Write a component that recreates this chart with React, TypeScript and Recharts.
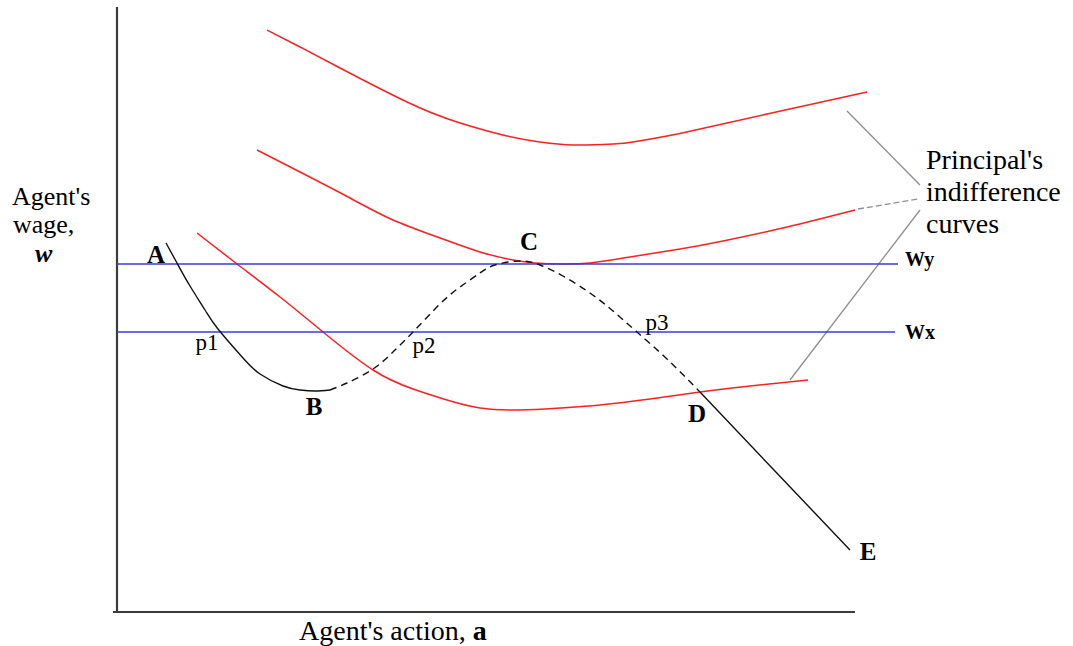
import React from 'react';
import { LineChart, Line, XAxis, YAxis, ReferenceLine, ReferenceDot, Label } from 'recharts';

// The figure has no printed scale, so the units are arbitrary:
// action goes 0..956 from left to right, wage goes 0..612 from bottom to top.

// principal's indifference curves (red)
const highCurveAction = [150, 183, 223, 290, 340, 390, 423, 456, 496, 516, 550, 583, 650, 750];
const highCurveWage = [582, 565, 544, 510, 490, 476, 470, 467, 468, 470, 476, 483, 498, 520];

const midCurveAction = [140, 183, 233, 276, 323, 363, 396, 418, 443, 473, 513, 563, 606, 670, 738];
const midCurveWage = [462, 440, 414, 392, 374, 360, 352, 349, 348, 349, 355, 363, 371, 385, 402];

const lowCurveAction = [80, 120, 163, 206, 256, 296, 330, 363, 403, 443, 483, 533, 583, 633, 691];
const lowCurveWage = [379, 348, 315, 280, 242, 223, 212, 204, 202, 204, 207, 213, 220, 226, 232];

// agent's wage schedule A-B-C-D-E (black): solid, dashed, solid
const schedAB_Action = [49, 60, 73, 88, 101, 126, 143, 166, 183, 198, 213];
const schedAB_Wage = [369, 349, 326, 302, 283, 254, 238, 226, 222, 221, 222];

const schedBD_Action = [213, 230, 256, 276, 296, 323, 343, 363, 378, 403, 423, 446, 473, 496, 520, 550, 583];
const schedBD_Wage = [222, 229, 243, 260, 280, 308, 325, 339, 347, 351, 347, 336, 319, 301, 280, 253, 220];

const schedDE_Action = [583, 656, 733];
const schedDE_Wage = [220, 143, 62];

// wage levels wy and wx (blue)
const wageY = 348;
const wageX = 280;
const wageYEnd = 781;
const wageXEnd = 778;

const zip = (xs: number[], ys: number[]) => xs.map((x, i) => ({ x, y: ys[i] }));

const SERIF = "'Liberation Serif', 'Times New Roman', serif";

type Part = { t: string; bold?: boolean; italic?: boolean };
type Note = { x: number; y: number; parts: Part[]; size: number; anchor?: 'start' | 'middle' };

// text anchors sit on the text baseline
const notes: Note[] = [
  { x: 39, y: 349, parts: [{ t: 'A', bold: true }], size: 25, anchor: 'middle' },
  { x: 197, y: 197, parts: [{ t: 'B', bold: true }], size: 25, anchor: 'middle' },
  { x: 412, y: 362, parts: [{ t: 'C', bold: true }], size: 25, anchor: 'middle' },
  { x: 580, y: 190, parts: [{ t: 'D', bold: true }], size: 25, anchor: 'middle' },
  { x: 751, y: 52, parts: [{ t: 'E', bold: true }], size: 25, anchor: 'middle' },
  { x: 90, y: 262, parts: [{ t: 'p1' }], size: 23, anchor: 'middle' },
  { x: 307, y: 259, parts: [{ t: 'p2' }], size: 23, anchor: 'middle' },
  { x: 540, y: 282, parts: [{ t: 'p3' }], size: 23, anchor: 'middle' },
  { x: 788, y: 346, parts: [{ t: 'Wy', bold: true }], size: 20 },
  { x: 788, y: 273, parts: [{ t: 'Wx', bold: true }], size: 20 },
  { x: 809, y: 443, parts: [{ t: "Principal's" }], size: 28 },
  { x: 809, y: 411, parts: [{ t: 'indifference' }], size: 28 },
  { x: 809, y: 379, parts: [{ t: 'curves' }], size: 28 },
  { x: -105, y: 407, parts: [{ t: "Agent's" }], size: 26 },
  { x: -104, y: 379, parts: [{ t: 'wage,' }], size: 26 },
  { x: -82, y: 350, parts: [{ t: 'w', bold: true, italic: true }], size: 26 },
  { x: 182, y: -28, parts: [{ t: "Agent's action, " }, { t: 'a', bold: true }], size: 28 },
];

const caption = (n: Note) => (p: any) => (
  <text
    x={p.viewBox.x}
    y={p.viewBox.y}
    textAnchor={n.anchor ?? 'start'}
    fontFamily={SERIF}
    fontSize={n.size}
    fill="#000"
  >
    {n.parts.map((part, i) => (
      <tspan
        key={i}
        fontWeight={part.bold ? 'bold' : 'normal'}
        fontStyle={part.italic ? 'italic' : 'normal'}
        style={{ whiteSpace: 'pre' }}
      >
        {part.t}
      </tspan>
    ))}
  </text>
);

const RED = '#ff2020';
const BLUE = '#3a3ade';
const INK = '#111';
const GREY = '#8e8e8e';
const AXIS = '#3c3c3c';

export default function App() {
  return (
    <div style={{ position: 'absolute', left: 0, top: 0, background: '#fff' }}>
      <LineChart width={1073} height={646} margin={{ top: 0, right: 0, left: 117, bottom: 34 }}>
        <XAxis type="number" dataKey="x" domain={[0, 956]} hide />
        <YAxis type="number" dataKey="y" domain={[0, 612]} hide />

        {/* axes */}
        <ReferenceLine segment={[{ x: 0, y: 0 }, { x: 0, y: 605 }]} stroke={AXIS} strokeWidth={2.2} ifOverflow="visible" />
        <ReferenceLine segment={[{ x: -4, y: 0 }, { x: 738, y: 0 }]} stroke={AXIS} strokeWidth={2.2} ifOverflow="visible" />

        {/* pointers from the caption to the curves */}
        <ReferenceLine segment={[{ x: 730, y: 501 }, { x: 803, y: 427 }]} stroke={GREY} strokeWidth={1.3} />
        <ReferenceLine segment={[{ x: 741, y: 403 }, { x: 801, y: 413 }]} stroke={GREY} strokeWidth={1.3} strokeDasharray="6 3" />
        <ReferenceLine segment={[{ x: 673, y: 232 }, { x: 803, y: 402 }]} stroke={GREY} strokeWidth={1.3} />

        <Line data={zip(highCurveAction, highCurveWage)} dataKey="y" type="natural" stroke={RED} strokeWidth={1.5} dot={false} activeDot={false} isAnimationActive={false} />
        <Line data={zip(midCurveAction, midCurveWage)} dataKey="y" type="natural" stroke={RED} strokeWidth={1.5} dot={false} activeDot={false} isAnimationActive={false} />
        <Line data={zip(lowCurveAction, lowCurveWage)} dataKey="y" type="natural" stroke={RED} strokeWidth={1.5} dot={false} activeDot={false} isAnimationActive={false} />

        <Line data={[{ x: 0, y: wageY }, { x: wageYEnd, y: wageY }]} dataKey="y" type="linear" stroke={BLUE} strokeWidth={1.6} dot={false} activeDot={false} isAnimationActive={false} />
        <Line data={[{ x: 0, y: wageX }, { x: wageXEnd, y: wageX }]} dataKey="y" type="linear" stroke={BLUE} strokeWidth={1.6} dot={false} activeDot={false} isAnimationActive={false} />

        <Line data={zip(schedAB_Action, schedAB_Wage)} dataKey="y" type="natural" stroke={INK} strokeWidth={1.4} dot={false} activeDot={false} isAnimationActive={false} />
        <Line data={zip(schedBD_Action, schedBD_Wage)} dataKey="y" type="natural" stroke={INK} strokeWidth={1.4} strokeDasharray="7 5" dot={false} activeDot={false} isAnimationActive={false} />
        <Line data={zip(schedDE_Action, schedDE_Wage)} dataKey="y" type="natural" stroke={INK} strokeWidth={1.4} dot={false} activeDot={false} isAnimationActive={false} />

        {notes.map((n, i) => (
          <ReferenceDot key={i} x={n.x} y={n.y} r={0} fill="none" stroke="none" ifOverflow="visible">
            <Label content={caption(n)} />
          </ReferenceDot>
        ))}
      </LineChart>
    </div>
  );
}
